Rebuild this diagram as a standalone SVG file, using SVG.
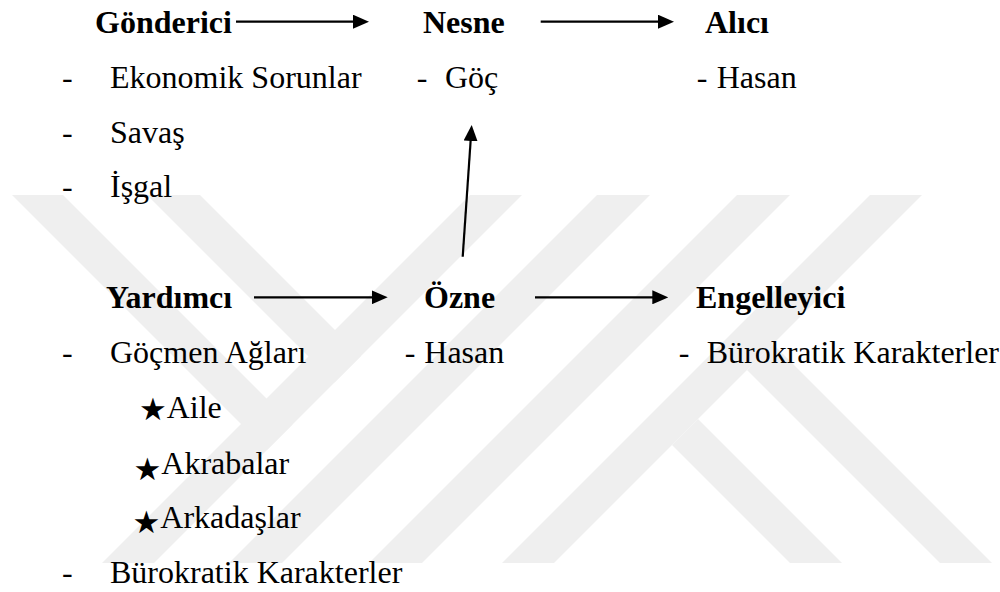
<svg xmlns="http://www.w3.org/2000/svg" width="1000" height="592" viewBox="0 0 1000 592">
  <style>
    .t { font-family: "Liberation Serif", serif; font-size: 32px; fill: #000; }
    .b { font-weight: bold; }
    .star { font-family: "DejaVu Sans", sans-serif; font-size: 31px; }
    .conn { stroke: #000; stroke-width: 2.2; fill: none; marker-end: url(#ah); }
    .wm { fill: #efefef; }
  </style>
  <defs>
    <marker id="ah" markerUnits="userSpaceOnUse" markerWidth="16" markerHeight="14" refX="12" refY="7" orient="auto">
      <path d="M0,0 L16,7 L0,14 Z" fill="#000"/>
    </marker>
  </defs>
  <rect width="1000" height="592" fill="#fff"/>

  <g id="watermark">
    <polygon class="wm" points="12,195 63,195 292.5,424.5 267,450"/>
    <polygon class="wm" points="147,195 200,195 361,356 334.5,382.5"/>
    <polygon class="wm" points="470,195 522,195 154,563 102,563"/>
    <polygon class="wm" points="597,195 650,195 282,563 229,563"/>
    <polygon class="wm" points="737,195 790,195 422,563 369,563"/>
    <polygon class="wm" points="870,195 922,195 554,563 502,563"/>
    <polygon class="wm" points="698,419 672,445 790,563 842,563"/>
    <polygon class="wm" points="773,344 747,370 940,563 992,563"/>
  </g>

  <g id="connectors">
    <line class="conn" x1="236" y1="21.7" x2="365" y2="21.7"/>
    <line class="conn" x1="540.7" y1="21.7" x2="670" y2="21.7"/>
    <line class="conn" x1="254" y1="297.3" x2="383.7" y2="297.3"/>
    <line class="conn" x1="535" y1="297.3" x2="664.3" y2="297.3"/>
    <line class="conn" x1="462.7" y1="256.7" x2="471.43" y2="128.99"/>
  </g>

  <g id="gonderici">
    <text class="t b" x="95" y="33">Gönderici</text>
    <text class="t" x="62" y="88">-</text>
    <text class="t" x="110" y="88">Ekonomik Sorunlar</text>
    <text class="t" x="62" y="143">-</text>
    <text class="t" x="110" y="143">Savaş</text>
    <text class="t" x="62" y="196.5">-</text>
    <text class="t" x="110" y="196.5">İşgal</text>
  </g>

  <g id="nesne">
    <text class="t b" x="423" y="33">Nesne</text>
    <text class="t" x="416.7" y="88">-</text>
    <text class="t" x="445" y="88">Göç</text>
  </g>

  <g id="alici">
    <text class="t b" x="705" y="33">Alıcı</text>
    <text class="t" x="696.7" y="88">-</text>
    <text class="t" x="716.7" y="88">Hasan</text>
  </g>

  <g id="yardimci">
    <text class="t b" x="106" y="308">Yardımcı</text>
    <text class="t" x="62" y="363">-</text>
    <text class="t" x="110" y="363">Göçmen Ağları</text>
    <text class="t" x="139" y="420"><tspan class="star">★</tspan><tspan x="166.7" y="418">Aile</tspan></text>
    <text class="t" x="133.5" y="480"><tspan class="star">★</tspan><tspan y="474">Akrabalar</tspan></text>
    <text class="t" x="132.5" y="533"><tspan class="star">★</tspan><tspan y="528.3">Arkadaşlar</tspan></text>
    <text class="t" x="62" y="583">-</text>
    <text class="t" x="110" y="583">Bürokratik Karakterler</text>
  </g>

  <g id="ozne">
    <text class="t b" x="424" y="308">Özne</text>
    <text class="t" x="404.7" y="363">-</text>
    <text class="t" x="424.3" y="363">Hasan</text>
  </g>

  <g id="engelleyici">
    <text class="t b" x="696" y="308">Engelleyici</text>
    <text class="t" x="678.7" y="363">-</text>
    <text class="t" x="706.7" y="363">Bürokratik Karakterler</text>
  </g>
</svg>
